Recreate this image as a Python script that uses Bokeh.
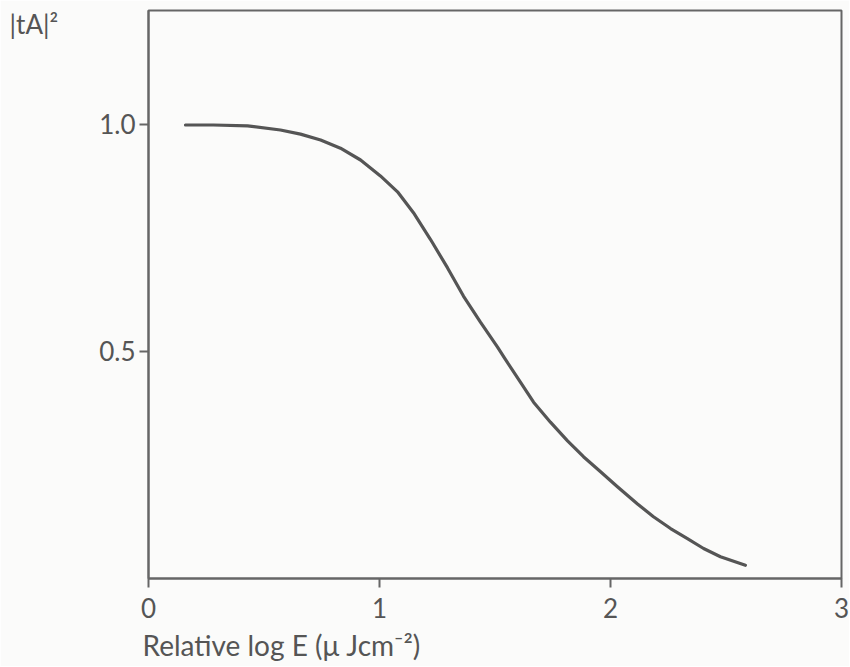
from bokeh.plotting import figure
from bokeh.models import Title, FixedTicker, Range1d
from bokeh.embed import file_html
from bokeh.resources import INLINE

# Data
x_vals = [0.160, 0.281, 0.429, 0.571, 0.658, 0.745, 0.831, 0.918, 1.004, 1.078, 1.147, 1.221,
          1.294, 1.364, 1.437, 1.511, 1.545, 1.610, 1.667, 1.740, 1.814, 1.883, 1.957, 2.030,
          2.117, 2.186, 2.260, 2.333, 2.403, 2.476, 2.584]
y_vals = [0.998, 0.998, 0.996, 0.987, 0.978, 0.965, 0.947, 0.921, 0.886, 0.851, 0.805, 0.746,
          0.684, 0.621, 0.564, 0.509, 0.482, 0.432, 0.388, 0.344, 0.303, 0.268, 0.235, 0.202,
          0.164, 0.136, 0.110, 0.088, 0.066, 0.048, 0.029]
x_ticks = [0, 1, 2, 3]
y_ticks = [0.5, 1.0]
y_tick_labels = {0.5: "0.5", 1.0: "1.0"}
x_label = "Relative log E (\u03bc Jcm\u207b\u00b2)"
y_label = "|tA|\u00b2"

FONT = "Lato"
TXT = "#555555"
AX = "#666666"

p = figure(frame_width=693, frame_height=568, output_backend="svg", toolbar_location=None,
           x_range=Range1d(0, 3), y_range=Range1d(0, 1.25),
           min_border_left=148, min_border_right=8, min_border_top=10, min_border_bottom=10,
           background_fill_color="#fbfbfa", border_fill_color="#fbfbfa")

p.line(x_vals, y_vals, line_color="#555555", line_width=3.2, line_join="round", line_cap="round")

p.grid.visible = False
p.outline_line_color = AX
p.outline_line_width = 2

for ax in (p.xaxis[0], p.yaxis[0]):
    ax.axis_line_color = AX
    ax.axis_line_width = 2
    ax.major_tick_line_color = AX
    ax.major_tick_line_width = 2
    ax.major_tick_out = 9
    ax.major_tick_in = 0
    ax.minor_tick_line_color = None
    ax.major_label_text_font = FONT
    ax.major_label_text_font_size = "26px"
    ax.major_label_text_color = TXT

p.xaxis[0].ticker = FixedTicker(ticks=x_ticks)
p.xaxis[0].major_label_standoff = 10
p.yaxis[0].ticker = FixedTicker(ticks=y_ticks)
p.yaxis[0].major_label_overrides = y_tick_labels
p.yaxis[0].major_label_standoff = 4

ya = p.yaxis[0]
ya.axis_label = "\n" + y_label
ya.axis_label_orientation = "horizontal"
ya.axis_label_align = "end"
ya.axis_label_standoff = 38
ya.axis_label_text_font = FONT
ya.axis_label_text_font_size = "26px"
ya.axis_label_text_font_style = "normal"
ya.axis_label_text_color = TXT
ya.axis_label_text_line_height = 0.85

p.add_layout(Title(text=x_label, align="left", text_font=FONT, text_font_size="28px",
                   text_font_style="normal", text_color=TXT, offset=-6), "below")

open("out.html", "w").write(file_html(p, INLINE))
